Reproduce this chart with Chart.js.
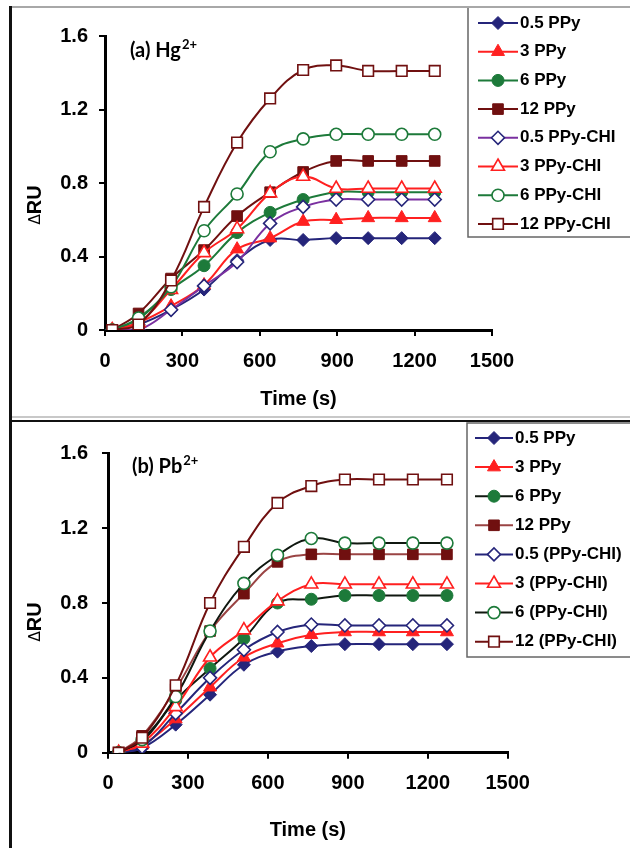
<!DOCTYPE html>
<html>
<head>
<meta charset="utf-8">
<script src="https://cdn.jsdelivr.net/npm/chart.js@4.4.1/dist/chart.umd.min.js"></script>
<style>
  html, body { margin: 0; padding: 0; background: #fff; }
  #page { position: relative; width: 630px; height: 848px; overflow: hidden; }
  canvas { position: absolute; left: 0; }
  .ln { position: absolute; }
</style>
</head>
<body>
<div id="page">
  <canvas id="chartA" width="630" height="420" style="top:0"></canvas>
  <canvas id="chartB" width="630" height="427" style="top:421px"></canvas>
  <div class="ln" style="left:10px;top:6px;width:620px;height:2px;background:#a8a8a8"></div>
  <div class="ln" style="left:10px;top:416px;width:620px;height:2px;background:#c8c8c8"></div>
  <div class="ln" style="left:10px;top:420px;width:620px;height:2px;background:#111"></div>
  <div class="ln" style="left:9px;top:6px;width:3px;height:842px;background:#111"></div>
</div>
<script>
// tiempos de medida (s)
const tiemposHg = [28, 130, 256, 384, 512, 640, 768, 896, 1020, 1150, 1278];
const tiemposPb = [40, 128, 254, 383, 510, 636, 763, 889, 1017, 1144, 1272];

const etiquetasHg = ['0.5 PPy', '3 PPy', '6 PPy', '12 PPy', '0.5 PPy-CHI', '3 PPy-CHI', '6 PPy-CHI', '12 PPy-CHI'];
const etiquetasPb = ['0.5 PPy', '3 PPy', '6 PPy', '12 PPy', '0.5 (PPy-CHI)', '3 (PPy-CHI)', '6 (PPy-CHI)', '12 (PPy-CHI)'];

const xTicks = [0, 300, 600, 900, 1200, 1500];
const xTickLabels = ['0', '300', '600', '900', '1200', '1500'];
const yTicks = [0, 0.4, 0.8, 1.2, 1.6];
const yTickLabels = ['0', '0.4', '0.8', '1.2', '1.6'];

// (a) Hg2+
const hg05 = [0, 0.03, 0.11, 0.22, 0.38, 0.49, 0.49, 0.50, 0.50, 0.50, 0.50];
const hg3 = [0, 0.04, 0.13, 0.245, 0.44, 0.50, 0.59, 0.60, 0.61, 0.61, 0.61];
const hg6 = [0, 0.06, 0.22, 0.35, 0.53, 0.64, 0.71, 0.75, 0.75, 0.75, 0.75];
const hg12 = [0, 0.09, 0.28, 0.435, 0.62, 0.75, 0.86, 0.92, 0.92, 0.92, 0.92];
const hg05chi = [0, 0.0, 0.11, 0.24, 0.37, 0.58, 0.67, 0.71, 0.71, 0.71, 0.71];
const hg3chi = [0, 0.04, 0.22, 0.42, 0.55, 0.745, 0.835, 0.77, 0.77, 0.77, 0.77];
const hg6chi = [0, 0.065, 0.235, 0.54, 0.74, 0.97, 1.04, 1.065, 1.065, 1.065, 1.065];
const hg12chi = [0, 0.03, 0.27, 0.67, 1.02, 1.26, 1.415, 1.44, 1.41, 1.41, 1.41];

// (b) Pb2+
const pb05 = [0, 0.025, 0.15, 0.31, 0.47, 0.54, 0.57, 0.58, 0.58, 0.58, 0.58];
const pb3 = [0, 0.04, 0.18, 0.35, 0.51, 0.585, 0.63, 0.645, 0.645, 0.645, 0.645];
const pb6 = [0, 0.06, 0.28, 0.45, 0.61, 0.80, 0.82, 0.84, 0.84, 0.84, 0.84];
const pb12 = [0, 0.09, 0.34, 0.65, 0.85, 1.02, 1.06, 1.06, 1.06, 1.06, 1.06];
const pb05chi = [0, 0.03, 0.21, 0.40, 0.55, 0.645, 0.685, 0.68, 0.68, 0.68, 0.68];
const pb3chi = [0, 0.05, 0.245, 0.51, 0.655, 0.81, 0.90, 0.90, 0.90, 0.90, 0.90];
const pb6chi = [0, 0.07, 0.30, 0.65, 0.905, 1.055, 1.145, 1.12, 1.12, 1.12, 1.12];
const pb12chi = [0, 0.08, 0.36, 0.80, 1.10, 1.335, 1.425, 1.46, 1.46, 1.46, 1.46];

// estilos
const AZUL = '#25257a', ROJO = '#ff2020', VERDE = '#1d7a3a', MARRON = '#701010', MORADO = '#7a30a0';
const estilosHg = [
  { linea: AZUL, marca: AZUL, forma: 'rectRot', r: 6.5, abierto: false },
  { linea: ROJO, marca: ROJO, forma: 'triangle', r: 7.5, abierto: false },
  { linea: VERDE, marca: VERDE, forma: 'circle', r: 6, abierto: false },
  { linea: MARRON, marca: MARRON, forma: 'rect', r: 7.5, abierto: false },
  { linea: MORADO, marca: AZUL, forma: 'rectRot', r: 6.5, abierto: true },
  { linea: ROJO, marca: ROJO, forma: 'triangle', r: 7.5, abierto: true },
  { linea: VERDE, marca: VERDE, forma: 'circle', r: 6, abierto: true },
  { linea: MARRON, marca: MARRON, forma: 'rect', r: 7.5, abierto: true }
];
const estilosPb = [
  { linea: AZUL, marca: AZUL, forma: 'rectRot', r: 6.5, abierto: false },
  { linea: ROJO, marca: ROJO, forma: 'triangle', r: 7.5, abierto: false },
  { linea: '#101810', marca: VERDE, forma: 'circle', r: 6, abierto: false },
  { linea: '#9a4444', marca: MARRON, forma: 'rect', r: 7.5, abierto: false },
  { linea: AZUL, marca: AZUL, forma: 'rectRot', r: 6.5, abierto: true },
  { linea: ROJO, marca: ROJO, forma: 'triangle', r: 7.5, abierto: true },
  { linea: '#101810', marca: VERDE, forma: 'circle', r: 6, abierto: true },
  { linea: MARRON, marca: MARRON, forma: 'rect', r: 7.5, abierto: true }
];

const FUENTE = 'Liberation Sans, Arial, sans-serif';

// leyenda con recuadro, rotulo del panel y titulo del eje Y
const decoracion = {
  id: 'decoracion',
  afterDraw(chart, args, o) {
    const ctx = chart.ctx;
    ctx.save();
    ctx.strokeStyle = '#666';
    ctx.lineWidth = 1.5;
    ctx.strokeRect(o.cajaX, o.cajaY, 200, o.cajaH);
    chart.data.datasets.forEach((ds, i) => {
      const y = o.filaY + i * o.filaPaso;
      ctx.strokeStyle = ds.borderColor;
      ctx.lineWidth = 2;
      ctx.beginPath();
      ctx.moveTo(o.lineaX1, y);
      ctx.lineTo(o.lineaX2, y);
      ctx.stroke();
      ctx.fillStyle = ds.pointBackgroundColor;
      ctx.strokeStyle = ds.pointBorderColor;
      ctx.lineWidth = ds.pointBorderWidth;
      Chart.helpers.drawPoint(ctx, {
        pointStyle: ds.pointStyle, radius: ds.pointRadius,
        borderWidth: ds.pointBorderWidth, rotation: 0
      }, (o.lineaX1 + o.lineaX2) / 2, y);
      ctx.fillStyle = '#000';
      ctx.font = 'bold 17px ' + FUENTE;
      ctx.textBaseline = 'middle';
      ctx.textAlign = 'left';
      ctx.fillText(ds.label, o.lineaX2 + 2, y);
    });

    // rotulo del panel
    ctx.fillStyle = '#000';
    ctx.textBaseline = 'alphabetic';
    ctx.font = 'bold 20px Lato, sans-serif';
    ctx.fillText(o.rotulo, o.rotX, o.rotY);
    const w = ctx.measureText(o.rotulo).width;
    ctx.font = 'bold 13px Lato, sans-serif';
    ctx.fillText('2+', o.rotX + w + 1, o.rotY - 8);

    // titulo eje Y
    ctx.translate(35, o.tituloY);
    ctx.rotate(-Math.PI / 2);
    ctx.textBaseline = 'middle';
    ctx.font = '15px DejaVu Sans, sans-serif';
    const wd = ctx.measureText('\u0394').width;
    ctx.font = 'bold 20px ' + FUENTE;
    const wr = ctx.measureText('RU').width;
    const x0 = -(wd + wr) / 2;
    ctx.font = '15px DejaVu Sans, sans-serif';
    ctx.fillText('\u0394', x0, 1);
    ctx.font = 'bold 20px ' + FUENTE;
    ctx.fillText('RU', x0 + wd, 0);
    ctx.restore();
  }
};

function crearGrafico(id, tiempos, etiquetas, series, estilos, g) {
  const datasets = etiquetas.map((lab, i) => ({
    label: lab,
    data: tiempos.map((t, j) => ({ x: t, y: series[i][j] })),
    borderColor: estilos[i].linea,
    borderWidth: 2,
    tension: 0.4,
    pointStyle: estilos[i].forma,
    pointRadius: estilos[i].r,
    pointHoverRadius: estilos[i].r,
    pointBackgroundColor: estilos[i].abierto ? '#fff' : estilos[i].marca,
    pointBorderColor: estilos[i].marca,
    pointBorderWidth: estilos[i].abierto ? 1.6 : 1,
    fill: false,
    order: -i
  }));

  const fuenteEje = { family: FUENTE, size: 20, weight: 'bold' };

  return new Chart(document.getElementById(id), {
    type: 'line',
    data: { datasets: datasets },
    plugins: [decoracion],
    options: {
      responsive: false,
      animation: false,
      layout: { padding: { left: 0, top: g.arriba, right: g.derecha, bottom: 0 } },
      plugins: {
        legend: { display: false },
        tooltip: { enabled: false },
        decoracion: g.deco
      },
      scales: {
        x: {
          type: 'linear', min: 0, max: 1500,
          afterFit: s => { s.height = g.altoX; },
          afterBuildTicks: s => { s.ticks = xTicks.map(v => ({ value: v })); },
          ticks: {
            color: '#000', font: fuenteEje, padding: g.padX, maxRotation: 0, autoSkip: false,
            callback: v => xTickLabels[xTicks.indexOf(v)]
          },
          grid: { display: true, drawOnChartArea: false, drawTicks: true, tickLength: 6, color: '#000', lineWidth: 2 },
          border: { display: true, color: '#000', width: 3 },
          title: { display: true, text: 'Time (s)', color: '#000', font: fuenteEje, padding: { top: 0, bottom: g.padTitulo } }
        },
        y: {
          min: 0, max: 1.6,
          afterFit: s => { s.width = g.anchoY; },
          afterBuildTicks: s => { s.ticks = yTicks.map(v => ({ value: v })); },
          ticks: {
            color: '#000', font: fuenteEje, padding: g.padY,
            callback: v => yTickLabels[yTicks.findIndex(t => Math.abs(t - v) < 1e-6)]
          },
          grid: { display: true, drawOnChartArea: false, drawTicks: true, tickLength: 6, color: '#000', lineWidth: 2 },
          border: { display: true, color: '#000', width: 3 }
        }
      }
    }
  });
}

crearGrafico('chartA', tiemposHg, etiquetasHg,
  [hg05, hg3, hg6, hg12, hg05chi, hg3chi, hg6chi, hg12chi], estilosHg,
  {
    arriba: 36, derecha: 138, anchoY: 105, altoX: 90, padX: 13, padY: 11, padTitulo: 9,
    deco: {
      cajaX: 468, cajaY: 7, cajaH: 230, filaY: 23, filaPaso: 28.7, lineaX1: 478, lineaX2: 518,
      rotulo: '(a) Hg', rotX: 130, rotY: 57, tituloY: 205
    }
  });

crearGrafico('chartB', tiemposPb, etiquetasPb,
  [pb05, pb3, pb6, pb12, pb05chi, pb3chi, pb6chi, pb12chi], estilosPb,
  {
    arriba: 32.3, derecha: 122.3, anchoY: 108, altoX: 95.3, padX: 13, padY: 14, padTitulo: 6,
    deco: {
      cajaX: 467, cajaY: 2, cajaH: 234, filaY: 17, filaPaso: 29.1, lineaX1: 475, lineaX2: 513,
      rotulo: '(b) Pb', rotX: 132, rotY: 52, tituloY: 201
    }
  });
</script>
</body>
</html>
